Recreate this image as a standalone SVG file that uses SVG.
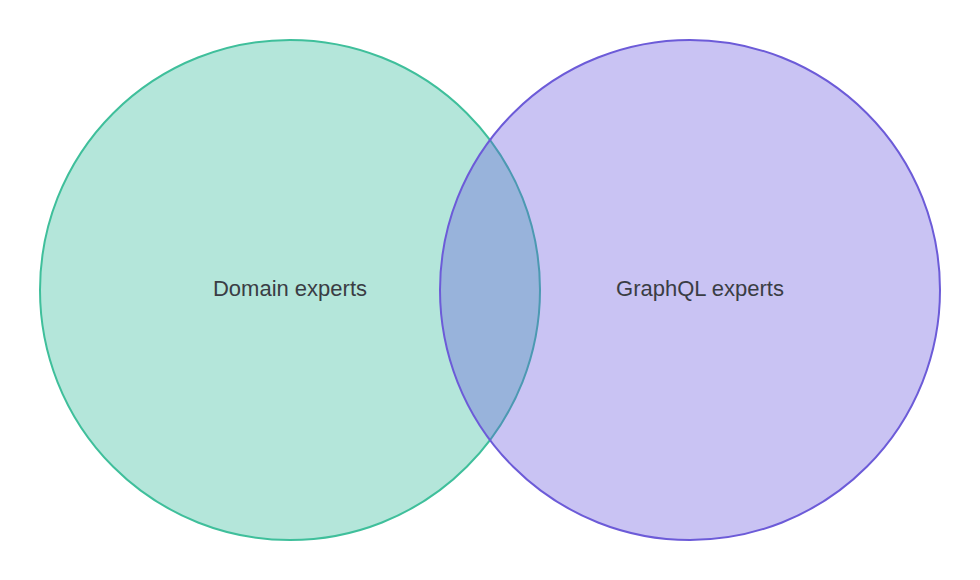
<svg xmlns="http://www.w3.org/2000/svg" width="980" height="580" viewBox="0 0 980 580">
<style>
.lbl{font-family:"Liberation Sans",Arial,sans-serif;font-size:22px;fill:#3a3d44;text-anchor:middle}
</style>
<rect width="980" height="580" fill="#ffffff"/>
<g id="domain-experts">
<circle cx="290" cy="290" r="250" fill="#b4e6da" stroke="#3fbf9b" stroke-width="2"/>
<text class="lbl" x="290" y="296">Domain experts</text>
</g>
<g id="graphql-experts">
<circle cx="690" cy="290" r="250" fill="#6554dc" fill-opacity="0.35" stroke="#6c5bd8" stroke-width="2"/>
<text class="lbl" x="700" y="296">GraphQL experts</text>
</g>
<g id="connectors"></g>
</svg>
